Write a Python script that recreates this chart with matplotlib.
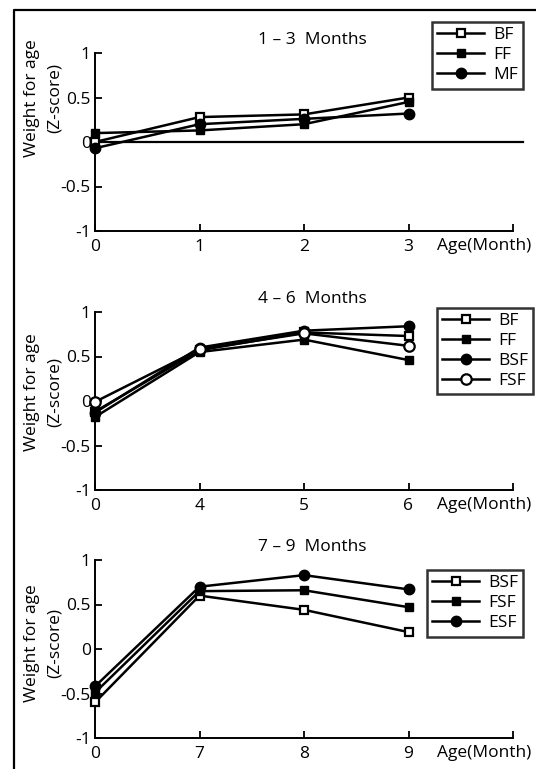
import matplotlib
matplotlib.use("Agg")
import matplotlib.pyplot as plt
from matplotlib.lines import Line2D

plt.rcParams['font.family'] = ['Open Sans', 'DejaVu Sans']
plt.rcParams['font.size'] = 12

# panel 1: 1-3 months
p1_ticks = ["0", "1", "2", "3"]
p1_bf = [0.0, 0.28, 0.31, 0.50]
p1_ff = [0.10, 0.13, 0.20, 0.45]
p1_mf = [-0.07, 0.20, 0.26, 0.32]

# panel 2: 4-6 months
p2_ticks = ["0", "4", "5", "6"]
p2_bf = [-0.12, 0.57, 0.77, 0.73]
p2_ff = [-0.18, 0.55, 0.69, 0.46]
p2_bsf = [-0.13, 0.60, 0.79, 0.84]
p2_fsf = [-0.01, 0.58, 0.76, 0.62]

# panel 3: 7-9 months
p3_ticks = ["0", "7", "8", "9"]
p3_bsf = [-0.60, 0.60, 0.44, 0.19]
p3_fsf = [-0.49, 0.65, 0.66, 0.47]
p3_esf = [-0.42, 0.70, 0.83, 0.67]

W, H = 536, 769
fig = plt.figure(figsize=(W / 100, H / 100), dpi=100)

def fx(px):
    return px / W

def fy(py):
    return 1 - py / H

open_sq = dict(marker='s', mfc='white', mec='black', ms=6, mew=1.6)
fill_sq = dict(marker='s', mfc='black', mec='black', ms=6)
fill_ci = dict(marker='o', mfc='black', mec='black', ms=7.5)
open_ci = dict(marker='o', mfc='white', mec='black', ms=7.5, mew=1.6)


def make_panel(top_px, title, ticks, series, ylabel_center, legend_box, zero_line=False):
    ax = fig.add_axes([fx(95), fy(top_px + 178), fx(513) - fx(95), fy(top_px) - fy(top_px + 178)])
    x = list(range(len(ticks)))
    if zero_line:
        ax.plot([0, 4.1], [0, 0], color='black', lw=1.6, clip_on=False, zorder=1)
    handles = []
    for label, vals, style in series:
        ax.plot(x, vals, color='black', lw=1.8, clip_on=False, zorder=3, **style)
        handles.append(Line2D([], [], color='black', lw=1.8, **style))
    ax.set_xlim(0, 4)
    ax.set_ylim(-1, 1)
    ax.set_xticks([0, 1, 2, 3, 4])
    ax.set_xticklabels(ticks + [""])
    ax.set_yticks([-1, -0.5, 0, 0.5, 1])
    ax.set_yticklabels(["-1", "-0.5", "0", "0.5", "1"])
    ax.tick_params(direction='in', length=5, width=1.3, labelsize=12.5, pad=3)
    ax.tick_params(axis='x', pad=6)
    for s in ['top', 'right']:
        ax.spines[s].set_visible(False)
    for s in ['left', 'bottom']:
        ax.spines[s].set_linewidth(1.4)
    ax.patch.set_alpha(0)
    fig.text(fx(312), fy(top_px - 13), title, ha='center', va='center', fontsize=12.5)
    fig.text(fx(484), fy(top_px + 193), "Age(Month)", ha='center', va='center', fontsize=12.5)
    fig.text(fx(32), fy(ylabel_center), "Weight for age", rotation=90, ha='center', va='center', fontsize=12.5)
    fig.text(fx(55), fy(ylabel_center), "(Z-score)", rotation=90, ha='center', va='center', fontsize=12.5)
    l, t, r, b = legend_box
    leg = fig.legend(handles, [s[0] for s in series], loc='upper left',
                     bbox_to_anchor=(fx(l), fy(t)), frameon=True, fancybox=False,
                     edgecolor='black', handlelength=2.7, handletextpad=0.5,
                     borderpad=0.3, labelspacing=0.22, fontsize=12.5, borderaxespad=0)
    leg.get_frame().set_linewidth(1.8)
    return ax


make_panel(53, "1 \u2013 3  Months", p1_ticks,
           [("BF", p1_bf, open_sq), ("FF", p1_ff, fill_sq), ("MF", p1_mf, fill_ci)],
           98, (432, 22, 528, 82), zero_line=True)
make_panel(312, "4 \u2013 6  Months", p2_ticks,
           [("BF", p2_bf, open_sq), ("FF", p2_ff, fill_sq), ("BSF", p2_bsf, fill_ci), ("FSF", p2_fsf, open_ci)],
           392, (437, 308, 525, 398))
make_panel(560, "7 \u2013 9  Months", p3_ticks,
           [("BSF", p3_bsf, open_sq), ("FSF", p3_fsf, fill_sq), ("ESF", p3_esf, fill_ci)],
           643, (427, 570, 525, 643))

# outer frame of the scanned figure
fig.add_artist(Line2D([fx(14), fx(14), fx(536)], [fy(769), fy(10), fy(10)], color='black', lw=1.6))

fig.savefig("out.png", dpi=100)
